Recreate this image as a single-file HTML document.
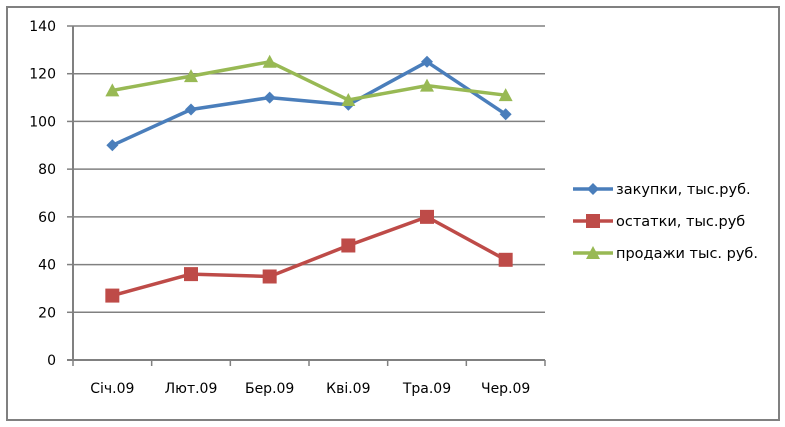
<!DOCTYPE html>
<html><head><meta charset="utf-8"><style>
body{margin:0;background:#fff}
svg{display:block;font-family:"DejaVu Sans","Liberation Sans",sans-serif}
</style></head><body>
<svg id="c" width="785" height="427">
<rect x="7" y="7" width="772" height="413" fill="#fff" stroke="#808080" stroke-width="2"/>
<g id="plot"></g>
</svg>
<script>
const categories=["Січ.09","Лют.09","Бер.09","Кві.09","Тра.09","Чер.09"];
const zakupki=[90,105,110,107,125,103];
const ostatki=[27,36,35,48,60,42];
const prodazhi=[113,119,125,109,115,111];
const yTicks=[0,20,40,60,80,100,120,140];
const seriesNames=["закупки, тыс.руб.","остатки, тыс.руб","продажи тыс. руб."];
const NS="http://www.w3.org/2000/svg";
const g=document.getElementById('plot');
const L=73,R=545,T=26,B=360;
const x=i=>L+(R-L)/categories.length*(i+0.5);
const y=v=>B-(B-T)*v/140;
function mk(t,a){const e=document.createElementNS(NS,t);for(const k in a)e.setAttribute(k,a[k]);g.appendChild(e);return e;}
yTicks.forEach(v=>{
  const ln=mk('line',{x1:v?L:67,x2:R,y1:y(v),y2:y(v),stroke:'#808080','stroke-width':v?1.5:2});
  
  
  const t=mk('text',{x:56,y:y(v)+5,'text-anchor':'end','font-size':14});
  t.textContent=v;
  
  
  if(v){const tk=mk('line',{x1:67,x2:L,y1:y(v),y2:y(v),stroke:'#808080','stroke-width':1.5});
  }
});
const ax=mk('line',{x1:L,x2:L,y1:T,y2:B,stroke:'#808080','stroke-width':2});

for(let i=0;i<=categories.length;i++){
  const xx=L+(R-L)/categories.length*i;
  const tk=mk('line',{x1:xx,x2:xx,y1:B,y2:B+6,stroke:'#808080','stroke-width':1.5});
  
}
categories.forEach((c,i)=>{
  const t=mk('text',{x:x(i),y:393,'text-anchor':'middle','font-size':14});
  t.textContent=c;
  
  
});
function marker(type,cx,cy,col,s){
  let e;
  if(type==0)e=mk('polygon',{points:`${cx},${cy-6} ${cx+6},${cy} ${cx},${cy+6} ${cx-6},${cy}`,fill:col});
  else if(type==1)e=mk('rect',{x:cx-7,y:cy-7,width:14,height:14,fill:col});
  else e=mk('polygon',{points:`${cx},${cy-7} ${cx+7},${cy+6} ${cx-7},${cy+6}`,fill:col});
  return e;
}
const series=[zakupki,ostatki,prodazhi];
const colors=["#4a7ebb","#be4b48","#98b954"];
series.forEach((d,s)=>{
  const p=mk('polyline',{points:d.map((v,i)=>x(i)+','+y(v)).join(' '),fill:'none',stroke:colors[s],'stroke-width':3.5,'stroke-linejoin':'round'});
  
  
  d.forEach((v,i)=>{const m=marker(s,x(i),y(v),colors[s]);
    
    });
  const ly=189+s*32;
  const ll=mk('line',{x1:573,x2:613,y1:ly,y2:ly,stroke:colors[s],'stroke-width':3.5});
  
  const lm=marker(s,593,ly,colors[s]);
  
  const lt=mk('text',{x:616,y:ly+5,'font-size':14.5});
  lt.textContent=seriesNames[s];
  
  
});
</script>
</body></html>
